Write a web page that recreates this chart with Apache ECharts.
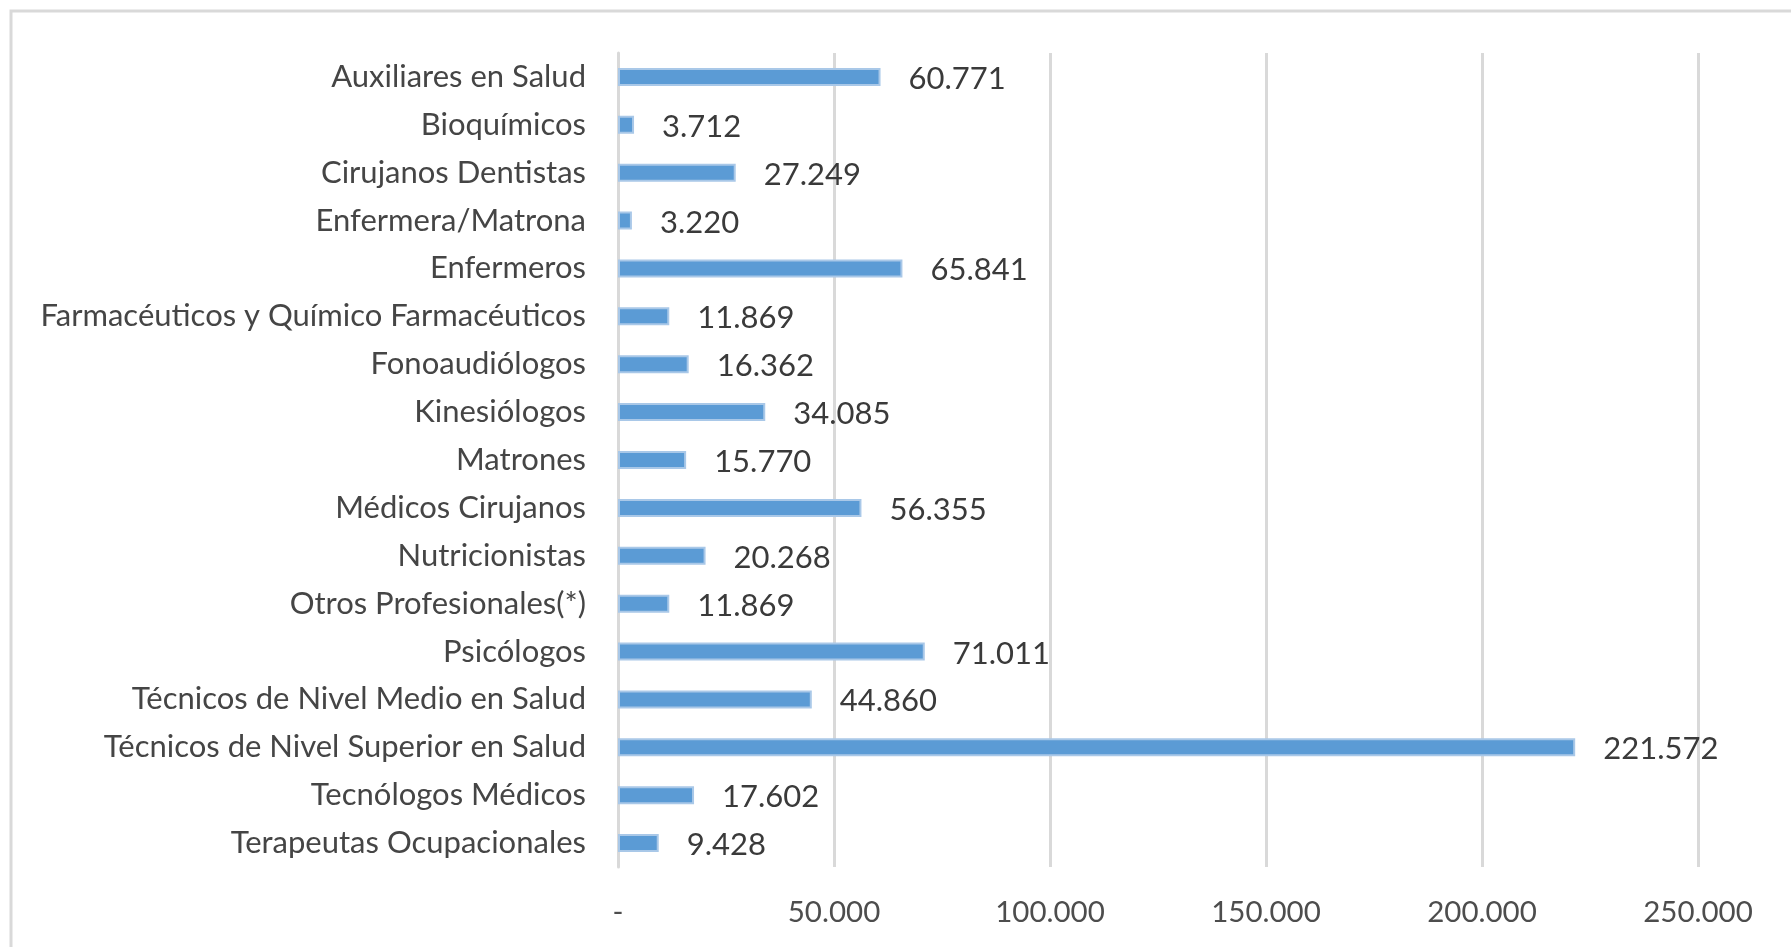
<!DOCTYPE html>
<html>
<head>
<meta charset="utf-8">
<script src="https://cdn.jsdelivr.net/npm/echarts@6/dist/echarts.min.js"></script>
<style>
html,body{margin:0;padding:0;background:#fff;}
#chart{width:1791px;height:947px;}
</style>
</head>
<body>
<div id="chart"></div>
<script>
const categories = [
  "Auxiliares en Salud",
  "Bioquímicos",
  "Cirujanos Dentistas",
  "Enfermera/Matrona",
  "Enfermeros",
  "Farmacéuticos y Químico Farmacéuticos",
  "Fonoaudiólogos",
  "Kinesiólogos",
  "Matrones",
  "Médicos Cirujanos",
  "Nutricionistas",
  "Otros Profesionales(*)",
  "Psicólogos",
  "Técnicos de Nivel Medio en Salud",
  "Técnicos de Nivel Superior en Salud",
  "Tecnólogos Médicos",
  "Terapeutas Ocupacionales"
];
const values = [60771, 3712, 27249, 3220, 65841, 11869, 16362, 34085, 15770, 56355, 20268, 11869, 71011, 44860, 221572, 17602, 9428];
const axisMin = 0, axisMax = 250000, axisStep = 50000;

function fmt(v){
  if (v === 0) return '-';
  return String(Math.round(v)).replace(/\B(?=(\d{3})+(?!\d))/g, '.');
}

const chart = echarts.init(document.getElementById('chart'));
chart.setOption({
  backgroundColor: '#ffffff',
  animation: false,
  textStyle: { fontFamily: 'Lato' },
  graphic: [{
    type: 'rect',
    shape: { x: 11, y: 11, width: 1800, height: 1000 },
    style: { fill: 'none', stroke: '#D9D9D9', lineWidth: 3 },
    silent: true
  }],
  grid: { left: 618, right: 93, top: 53, bottom: 80, containLabel: false },
  xAxis: {
    type: 'value',
    min: axisMin, max: axisMax, interval: axisStep,
    axisLine: { show: false },
    axisTick: { show: false },
    splitLine: { show: true, lineStyle: { color: '#D9D9D9', width: 3 } },
    axisLabel: { formatter: fmt, color: '#4d4d4d', fontSize: 29.5, fontFamily: 'Lato', margin: 30 }
  },
  yAxis: {
    type: 'category',
    data: categories,
    inverse: true,
    axisLine: { show: true, lineStyle: { color: '#D9D9D9', width: 3 } },
    axisTick: { show: false },
    axisLabel: { color: '#454545', fontSize: 31, fontFamily: 'Lato', margin: 32 }
  },
  series: [{
    type: 'bar',
    data: values,
    barWidth: 18,
    itemStyle: { color: '#5B9BD5', borderColor: '#A9C8E8', borderWidth: 2 },
    label: {
      show: true, position: 'right', distance: 28,
      formatter: p => fmt(p.value),
      color: '#3a3a3a', fontSize: 31, fontFamily: 'Lato', offset: [0, 2]
    }
  }]
});
</script>
</body>
</html>
